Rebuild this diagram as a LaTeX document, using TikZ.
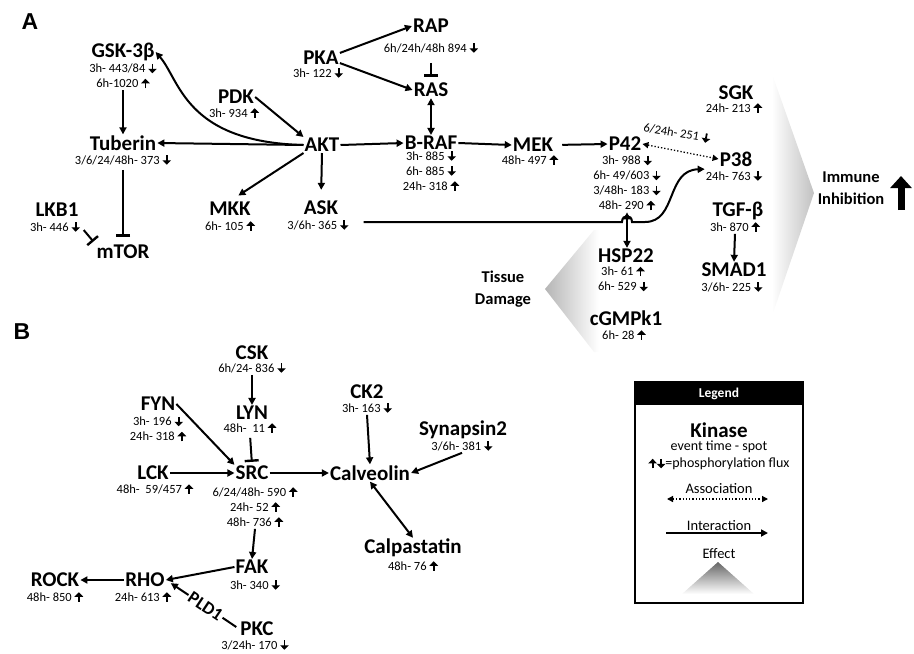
\documentclass[tikz,border=0pt]{standalone}
\usepackage{fontspec}
\setmainfont{Carlito}
\newfontfamily\panelfont{Liberation Sans}
\usetikzlibrary{arrows.meta}
\newcommand{\fu}{\tikz[baseline=0pt]\draw[line width=1.8pt,-{Triangle[length=4.5pt,width=8.5pt]}] (0pt,-0.5pt) -- (0pt,9pt);}
\newcommand{\fd}{\tikz[baseline=0pt]\draw[line width=1.8pt,-{Triangle[length=4.5pt,width=8.5pt]}] (0pt,9pt) -- (0pt,-0.5pt);}
\pgfdeclarehorizontalshading{immuneshade}{100bp}{color(0bp)=(white); color(58bp)=(white); color(100bp)=(black!60)}
\pgfdeclarehorizontalshading{tissueshade}{100bp}{color(0bp)=(black!58); color(50bp)=(white); color(100bp)=(white)}
\tikzset{kin/.style = {font=\bfseries\fontsize{21}{23}\selectfont, inner sep=1pt}}
\tikzset{sub/.style = {font=\fontsize{12.5}{15}\selectfont, align=center, inner sep=1pt}}
\tikzset{panel/.style = {font=\panelfont\bfseries\fontsize{23}{25}\selectfont}}
\tikzset{effect/.style = {font=\bfseries\fontsize{16.5}{22}\selectfont, align=center}}
\tikzset{edge/.style = {line width=2pt, -{Triangle[length=7pt,width=7pt]}}}
\tikzset{both/.style = {line width=2pt, {Triangle[length=7pt,width=7pt]}-{Triangle[length=7pt,width=7pt]}}}
\tikzset{inhib/.style = {line width=2pt, -{Bar[width=14pt,line width=2.4pt]}}}
\tikzset{assoc/.style = {line width=1.3pt, dotted, {Triangle[length=6pt,width=6pt]}-{Triangle[length=6pt,width=6pt]}}}

\begin{document}
\begin{tikzpicture}[x=1pt, y=-1pt]
            \useasboundingbox (0,0) rectangle (914,654);
            % effect areas
            \shade[shading=immuneshade] (690,68) -- (770,68) -- (814,193) -- (770,322) -- (690,322) -- cycle;
            \shade[shading=tissueshade] (545,289) -- (594,230) -- (652,230) -- (652,352) -- (594,352) -- cycle;
            \node[effect] (immune) at (851,188) {Immune\\Inhibition};
            \coordinate (up-b) at (901,210);
            \coordinate (up-t) at (901,176);
            \draw[line width=7pt, -{Triangle[length=12pt,width=21pt]}] (up-b) -- (up-t);
            \node[effect] (tissue) at (503,289) {Tissue\\Damage};

            % panel A
            \node[panel] (pa) at (30,22) {A};
            \node[kin] (gsk) at (123,52) {GSK-3β};
            \node[sub] (gsk-t) at (123,76) {3h- 443/84 \fd\\6h-1020 \fu};
            \node[kin] (pka) at (321,58) {PKA};
            \node[sub] (pka-t) at (318,73) {3h- 122 \fd};
            \node[kin] (rap) at (431,26) {RAP};
            \node[sub] (rap-t) at (431,48) {6h/24h/48h 894 \fd};
            \node[kin] (ras) at (431,90) {RAS};
            \node[kin] (pdk) at (236,97) {PDK};
            \node[sub] (pdk-t) at (234,113) {3h- 934 \fu};
            \node[kin] (akt) at (322,145) {AKT};
            \node[kin] (tub) at (123,143) {Tuberin};
            \node[sub] (tub-t) at (123,160) {3/6/24/48h- 373 \fd};
            \node[kin] (braf) at (431,143) {B-RAF};
            \node[sub] (braf-t) at (431,171) {3h- 885 \fd\\6h- 885 \fd\\24h- 318 \fu};
            \node[kin] (mek) at (533,145) {MEK};
            \node[sub] (mek-t) at (530,160) {48h- 497 \fu};
            \node[kin] (p42) at (625,144) {P42};
            \node[sub] (p42-t) at (627,183) {3h- 988 \fd\\6h- 49/603 \fd\\3/48h- 183 \fd\\48h- 290 \fu};
            \node[kin] (sgk) at (736,93) {SGK};
            \node[sub] (sgk-t) at (734,108) {24h- 213 \fu};
            \node[kin] (p38) at (736,159) {P38};
            \node[sub] (p38-t) at (734,176) {24h- 763 \fd};
            \node[sub, rotate=-10] (p42p38) at (677,133) {6/24h- 251 \fd};
            \node[kin] (lkb) at (57,210) {LKB1};
            \node[sub] (lkb-t) at (55,227) {3h- 446 \fd};
            \node[kin] (mtor) at (123,252) {mTOR};
            \node[kin] (mkk) at (230,209) {MKK};
            \node[sub] (mkk-t) at (230,226) {6h- 105 \fu};
            \node[kin] (ask) at (321,208) {ASK};
            \node[sub] (ask-t) at (318,225) {3/6h- 365 \fd};
            \node[kin] (hsp) at (626,256) {HSP22};
            \node[sub] (hsp-t) at (623,279) {3h- 61 \fu\\6h- 529 \fd};
            \node[kin] (cgmp) at (626,318) {cGMPk1};
            \node[sub] (cgmp-t) at (624,335) {6h- 28 \fu};
            \node[kin] (tgf) at (738,211) {TGF-β};
            \node[sub] (tgf-t) at (735,227) {3h- 870 \fu};
            \node[kin] (smad) at (734,270) {SMAD1};
            \node[sub] (smad-t) at (732,287) {3/6h- 225 \fd};

            \draw[edge] (pka.15) -- (rap.west);
            \draw[edge] (pka.-15) -- (ras.west);
            \draw[inhib, shorten <=8pt, shorten >=5pt] (rap-t.south) -- (ras.north);
            \draw[both] (ras.south) -- (braf.north);
            \draw[edge] (pdk.east) -- (akt.north west);
            \draw[edge] (akt.west) -- (tub.east);
            \draw[edge] (akt.west) .. controls (185,142) and (180,80) .. (gsk.east);
            \draw[edge] (gsk-t.south) -- (tub.north);
            \draw[inhib, shorten <=3pt, shorten >=7pt] (tub-t.south) -- (mtor.north);
            \draw[inhib, shorten <=4pt, shorten >=3pt] (lkb-t.east) -- (mtor.north west);
            \draw[edge, shorten >=10pt] (akt.south west) -- (mkk.north);
            \draw[edge, shorten >=10pt] (akt.south) -- (ask.north);
            \draw[edge] (akt.east) -- (braf.west);
            \draw[edge] (braf.east) -- (mek.west);
            \draw[edge, shorten <=8pt] (mek.east) -- (p42.west);
            \draw[assoc] (p42.east) -- (p38.west);
            \draw[both] (p42-t.south) -- (p42-t.south |- hsp.north);
            \coordinate (asklead) at ([xshift=14pt,yshift=3pt]ask-t.east);
            \coordinate (cross) at (asklead -| p42-t.south);
            \draw[edge] (asklead) -- ([xshift=-5pt]cross)
                .. controls ([xshift=-5pt,yshift=8pt]cross) and ([xshift=5pt,yshift=8pt]cross) .. ([xshift=5pt]cross)
                -- ([xshift=18pt]cross) .. controls ([xshift=50pt]cross) and (666,170) .. (p38-t.north west);
            \draw[edge] (tgf-t.south) -- (smad.north);

            % panel B
            \node[panel] (pb) at (22,332) {B};
            \node[kin] (csk) at (252,353) {CSK};
            \node[sub] (csk-t) at (252,368) {6h/24- 836 \fd};
            \node[kin] (lyn) at (252,413) {LYN};
            \node[sub] (lyn-t) at (250,428) {48h-~ 11 \fu};
            \node[kin] (fyn) at (158,404) {FYN};
            \node[sub] (fyn-t) at (158,429) {3h- 196 \fd\\24h- 318 \fu};
            \node[kin] (lck) at (153,473) {LCK};
            \node[sub] (lck-t) at (155,489) {48h-~ 59/457 \fu};
            \node[kin] (src) at (252,473) {SRC};
            \node[sub] (src-t) at (255,507) {6/24/48h- 590 \fu\\24h- 52 \fu\\48h- 736 \fu};
            \node[kin] (calv) at (370,473) {Calveolin};
            \node[kin] (ck2) at (367,392) {CK2};
            \node[sub] (ck2-t) at (367,408) {3h- 163 \fd};
            \node[kin] (syn) at (463,430) {Synapsin2};
            \node[sub] (syn-t) at (462,446) {3/6h- 381 \fd};
            \node[kin] (calp) at (413,548) {Calpastatin};
            \node[sub] (calp-t) at (413,566) {48h- 76 \fu};
            \node[kin] (fak) at (252,567) {FAK};
            \node[sub] (fak-t) at (255,585) {3h- 340 \fd};
            \node[kin] (rho) at (145,580) {RHO};
            \node[sub] (rho-t) at (143,597) {24h- 613 \fu};
            \node[kin] (rock) at (55,580) {ROCK};
            \node[sub] (rock-t) at (55,597) {48h- 850 \fu};
            \node[kin] (pkc) at (257,629) {PKC};
            \node[sub] (pkc-t) at (255,645) {3/24h- 170 \fd};

            \draw[edge] (csk-t.south) -- (lyn.north);
            \draw[inhib, shorten <=3pt, shorten >=3pt] (lyn-t.south) -- (src.north);
            \draw[edge] (fyn.east) -- (src.north west);
            \draw[edge] (lck.east) -- (src.west);
            \draw[edge] (src.east) -- (calv.west);
            \draw[edge] (ck2-t.south) -- (calv.north);
            \draw[edge] (syn-t.south) -- (calv.east);
            \draw[both] (calv.south) -- (calp.north);
            \draw[edge] (src-t.south) -- (fak.north);
            \draw[edge] (fak.west) -- (rho.east);
            \draw[edge] (rho.west) -- (rock.east);
            \draw[edge] ([xshift=-3pt,yshift=2pt]pkc.west) -- ([xshift=5pt,yshift=5pt]rho.south east)
                node[pos=0.47, sloped, fill=white, inner sep=1.5pt, font=\bfseries\fontsize{18}{20}\selectfont] (pld) {PLD1};

            % legend
            \node[fill=black, text=white, font=\bfseries\fontsize{13.5}{15}\selectfont,
                  minimum width=168pt, minimum height=23pt, inner sep=0pt] (leg) at (719,393.5) {Legend};
            \draw[line width=2pt] (leg.north west) rectangle (803,603);
            \node[kin] (leg-kin) at (719,430) {Kinase};
            \node[font=\fontsize{14}{16}\selectfont, inner sep=1pt] (leg-ev) at (719,447) {event time - spot};
            \node[font=\fontsize{14}{16}\selectfont, inner sep=1pt] (leg-fl) at (719,464) {\fu\fd=phosphorylation flux};
            \node[font=\fontsize{14.5}{16}\selectfont, inner sep=1pt] (leg-as) at (719,489) {Association};
            \coordinate (as-l) at (667,499);
            \coordinate (as-r) at (768,499);
            \draw[assoc] (as-l) -- (as-r);
            \node[font=\fontsize{14.5}{16}\selectfont, inner sep=1pt] (leg-in) at (719,526) {Interaction};
            \coordinate (in-l) at (666,533);
            \coordinate (in-r) at (768,533);
            \draw[edge] (in-l) -- (in-r);
            \node[font=\fontsize{14.5}{16}\selectfont, inner sep=1pt] (leg-ef) at (719,554) {Effect};
            \shade[top color=black!60, bottom color=white] (682,594) -- (718,562) -- (754,594) -- cycle;
        \end{tikzpicture}
\end{document}
